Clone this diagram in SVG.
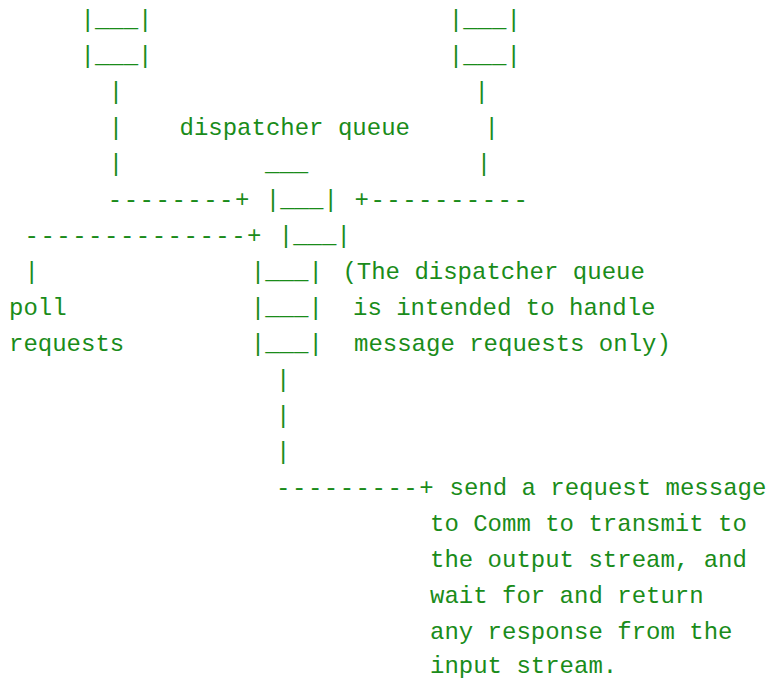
<svg xmlns="http://www.w3.org/2000/svg" width="770" height="679" viewBox="0 0 770 679">
<style>
text{font-family:"Liberation Mono","Courier New",monospace;font-size:24px;fill:#1a8c1a;white-space:pre}
</style>
<rect width="770" height="679" fill="#ffffff"/>
<g id="queue-left">
<text x="80.5" y="27">|___|</text>
<text x="80.5" y="63">|___|</text>
</g>
<g id="queue-right">
<text x="448.8" y="27">|___|</text>
<text x="448.8" y="63">|___|</text>
</g>
<g id="dispatcher-queue">
<text x="179.5" y="135">dispatcher queue</text>
<text x="265" y="171">___</text>
<text x="265.8" y="207">|___|</text>
<text x="278.8" y="243">|___|</text>
<text x="250.8" y="279">|___|</text>
<text x="250.8" y="315">|___|</text>
<text x="250.8" y="351">|___|</text>
</g>
<g id="poll-requests">
<text x="9" y="315">poll</text>
<text x="9" y="351">requests</text>
</g>
<g id="note">
<text x="342.4" y="279">(The dispatcher queue</text>
<text x="353" y="315">is intended to handle</text>
<text x="354" y="351">message requests only)</text>
</g>
<g id="send-request">
<text x="449.5" y="495">send a request message</text>
<text x="430" y="531">to Comm to transmit to</text>
<text x="430" y="567">the output stream, and</text>
<text x="430" y="603">wait for and return</text>
<text x="430" y="639">any response from the</text>
<text x="430" y="673">input stream.</text>
</g>
<g id="connectors">
<text x="108.8" y="99">|</text>
<text x="108.8" y="135">|</text>
<text x="108.8" y="171">|</text>
<text x="474.5" y="99">|</text>
<text x="484.5" y="135">|</text>
<text x="476.8" y="171">|</text>
<text x="107.8 123.7 139.6 155.5 171.4 187.3 203.2 219.1 235.0" y="207">--------+</text>
<text x="354.5 370.4 386.3 402.2 418.1 434.0 449.9 465.8 481.7 497.6 513.5" y="207">+----------</text>
<text x="24.5 40.4 56.3 72.2 88.1 104.0 119.9 135.8 151.7 167.6 183.5 199.4 215.3 231.2 247.1" y="243">--------------+</text>
<text x="24.5" y="279">|</text>
<text x="276.1" y="387">|</text>
<text x="276.1" y="423">|</text>
<text x="276.1" y="459">|</text>
<text x="276.1 292.0 307.9 323.8 339.7 355.6 371.5 387.4 403.3 419.2" y="495">---------+</text>
</g>
</svg>
